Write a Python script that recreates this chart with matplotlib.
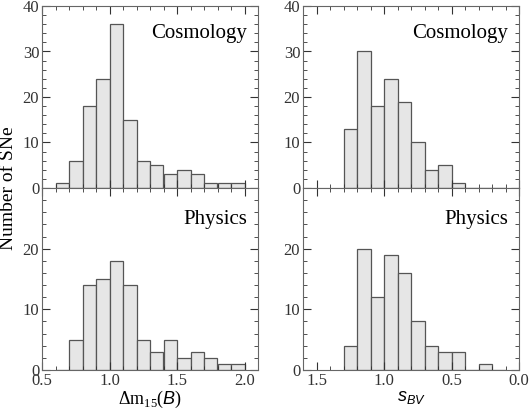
import numpy as np
import matplotlib.pyplot as plt
from matplotlib.ticker import MultipleLocator

plt.rcParams['font.family'] = ['Liberation Serif', 'DejaVu Serif']
plt.rcParams['mathtext.fontset'] = 'custom'
plt.rcParams['mathtext.rm'] = 'Liberation Serif'
plt.rcParams['mathtext.it'] = 'Liberation Sans:italic'

# bin left edges and counts
dm_edges = np.round(np.arange(0.6, 2.0, 0.1), 2)
dm_cosmo = [1, 6, 18, 24, 36, 15, 6, 5, 3, 4, 3, 1, 1, 1]
dm_phys = [0, 5, 14, 15, 18, 14, 5, 3, 5, 2, 3, 2, 1, 1]

sbv_edges = np.round(np.arange(1.3, 0.15, -0.1), 2)  # upper edges, descending
sbv_cosmo = [13, 30, 18, 24, 19, 10, 4, 5, 1, 0, 0, 0]
sbv_phys = [4, 20, 12, 19, 16, 8, 4, 3, 3, 0, 1, 0]

fig = plt.figure(figsize=(5.31, 4.11), dpi=100)
L1, L2, W = 42 / 531, 303 / 531, 216 / 531
B, H = (411 - 370) / 411, 182 / 411
axes = {
    (0, 0): fig.add_axes([L1, B + H, W, H]),
    (0, 1): fig.add_axes([L2, B + H, W, H]),
    (1, 0): fig.add_axes([L1, B, W, H]),
    (1, 1): fig.add_axes([L2, B, W, H]),
}
style = dict(color='#e6e6e6', edgecolor='#555555', linewidth=0.9)

for (r, c), ax in axes.items():
    if c == 0:
        ax.bar(dm_edges, dm_cosmo if r == 0 else dm_phys, width=0.1, align='edge', **style)
        ax.set_xlim(0.5, 2.1)
    else:
        ax.bar(sbv_edges, sbv_cosmo if r == 0 else sbv_phys, width=-0.1, align='edge', **style)
        ax.set_xlim(1.6, 0.0)
    ax.xaxis.set_major_locator(MultipleLocator(0.5))
    ax.xaxis.set_minor_locator(MultipleLocator(0.1))
    ax.set_ylim(0, 40 if r == 0 else 30)
    ax.set_yticks([0, 10, 20, 30, 40] if r == 0 else [0, 10, 20])
    ax.yaxis.set_minor_locator(MultipleLocator(2))
    ax.tick_params(which='both', direction='in', top=True, right=True, labelsize=12,
                   colors='#333333', pad=2)
    ax.tick_params(which='major', length=6)
    ax.tick_params(which='minor', length=3)
    for s in ax.spines.values():
        s.set_color('#666666')
    if r == 0:
        ax.tick_params(labelbottom=False)
    ax.text(0.95, 0.9 if r == 0 else 0.88, 'Cosmology' if r == 0 else 'Physics',
            transform=ax.transAxes, ha='right', va='top', fontsize=15)

axes[(1, 0)].set_xlabel(r'$\Delta\mathrm{m}_{15}(B)$', fontsize=13, labelpad=0)
axes[(1, 1)].set_xlabel(r'$s_{BV}$', fontsize=13, labelpad=0)
fig.text(0.0, (B + H), 'Number of SNe', rotation=90, ha='left', va='center', fontsize=14)

fig.savefig('out.png')
